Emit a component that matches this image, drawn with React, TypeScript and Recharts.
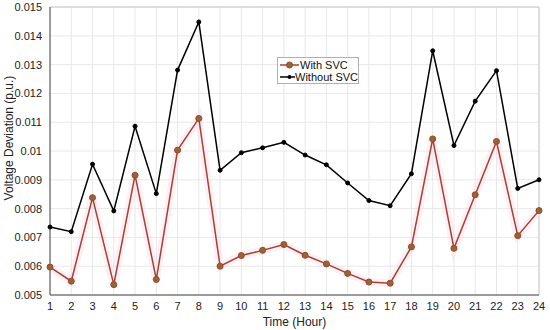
import {
  LineChart,
  Line,
  XAxis,
  YAxis,
  CartesianGrid,
  ReferenceLine,
} from 'recharts';

const hours = [1, 2, 3, 4, 5, 6, 7, 8, 9, 10, 11, 12, 13, 14, 15, 16, 17, 18, 19, 20, 21, 22, 23, 24];

const withSvc = [
  0.00597, 0.00548, 0.00838, 0.00536, 0.00916, 0.00554, 0.01003, 0.01113,
  0.006, 0.00637, 0.00655, 0.00675, 0.00638, 0.00608, 0.00575, 0.00545,
  0.00541, 0.00667, 0.01042, 0.00662, 0.00848, 0.01033, 0.00706, 0.00793,
];

const withoutSvc = [
  0.00736, 0.0072, 0.00954, 0.00792, 0.01086, 0.00852, 0.01281, 0.01448,
  0.00933, 0.00994, 0.01011, 0.0103, 0.00986, 0.00952, 0.00889, 0.00828,
  0.0081, 0.00921, 0.01348, 0.01019, 0.01173, 0.01279, 0.0087, 0.009,
];

const yTicks = [0.005, 0.006, 0.007, 0.008, 0.009, 0.01, 0.011, 0.012, 0.013, 0.014, 0.015];

const data = hours.map((h, i) => ({
  hour: h,
  withSvc: withSvc[i],
  withoutSvc: withoutSvc[i],
}));

const FONT = '"Liberation Sans", Arial, sans-serif';
const RED = '#a8402a';

const Legend = () => (
  <div
    style={{
      position: 'absolute',
      left: 277,
      top: 57,
      width: 82,
      height: 27,
      border: '1px solid #b0b0b0',
      background: '#fff',
      fontFamily: FONT,
      fontSize: 11,
      color: '#111',
      boxSizing: 'border-box',
      lineHeight: '12px',
      paddingTop: 1,
      whiteSpace: 'nowrap',
    }}>
    <div style={{ display: 'flex', alignItems: 'center' }}>
      <svg width={22} height={12}>
        <line x1={2} x2={21} y1={6} y2={6} stroke={RED} strokeWidth={1.5} />
        <circle cx={11.5} cy={6} r={3} fill="#8c6a36" stroke={RED} strokeWidth={1} />
      </svg>
      <span>With SVC</span>
    </div>
    <div style={{ display: 'flex', alignItems: 'center' }}>
      <svg width={22} height={12}>
        <line x1={2} x2={21} y1={6} y2={6} stroke="#000" strokeWidth={1.5} />
        <circle cx={11.5} cy={6} r={2} fill="#000" />
      </svg>
      <span>Without SVC</span>
    </div>
  </div>
);

export default function App() {
  return (
    <div style={{ position: 'absolute', left: 0, top: 0, width: 550, height: 330, background: '#fff' }}>
      <LineChart
        width={550}
        height={330}
        data={data}
        margin={{ top: 7, right: 11, left: 0, bottom: 0 }}>
        <CartesianGrid stroke="#e8e8e8" strokeWidth={1} />
        <XAxis
          dataKey="hour"
          type="number"
          domain={[1, 24]}
          ticks={hours}
          interval={0}
          height={35}
          stroke="#444"
          tickLine={false}
          tickMargin={1}
          tick={{ fill: '#222', fontSize: 11, fontFamily: FONT }}
          label={{
            value: 'Time (Hour)',
            position: 'insideBottom',
            offset: 4,
            fill: '#222',
            fontSize: 12,
            fontFamily: FONT,
          }}
        />
        <YAxis
          type="number"
          domain={[0.005, 0.015]}
          ticks={yTicks}
          interval={0}
          width={50}
          stroke="#444"
          tickLine={false}
          tickMargin={2}
          tick={{ fill: '#222', fontSize: 11, fontFamily: FONT }}
        />
        <ReferenceLine y={0.015} stroke="#c8c8c8" />
        <ReferenceLine x={24} stroke="#c8c8c8" />
        <Line
          dataKey="withSvc"
          stroke="#f8dcf0"
          strokeWidth={8}
          strokeOpacity={0.45}
          dot={false}
          activeDot={false}
          isAnimationActive={false}
        />
        <Line
          dataKey="withoutSvc"
          stroke="#000"
          strokeWidth={1.5}
          dot={{ r: 2, fill: '#000', stroke: '#000', strokeWidth: 1 }}
          isAnimationActive={false}
        />
        <Line
          dataKey="withSvc"
          stroke={RED}
          strokeWidth={1.5}
          dot={{ r: 3, fill: '#8c6a36', stroke: RED, strokeWidth: 1 }}
          isAnimationActive={false}
        />
      </LineChart>
      <svg
        width={16}
        height={330}
        style={{ position: 'absolute', left: 0, top: 0, pointerEvents: 'none' }}>
        <text
          x={13}
          y={138}
          transform="rotate(-90 13 138)"
          textAnchor="middle"
          fill="#222"
          fontSize={12}
          fontFamily={FONT}>
          Voltage Deviation (p.u.)
        </text>
      </svg>
      <Legend />
    </div>
  );
}
